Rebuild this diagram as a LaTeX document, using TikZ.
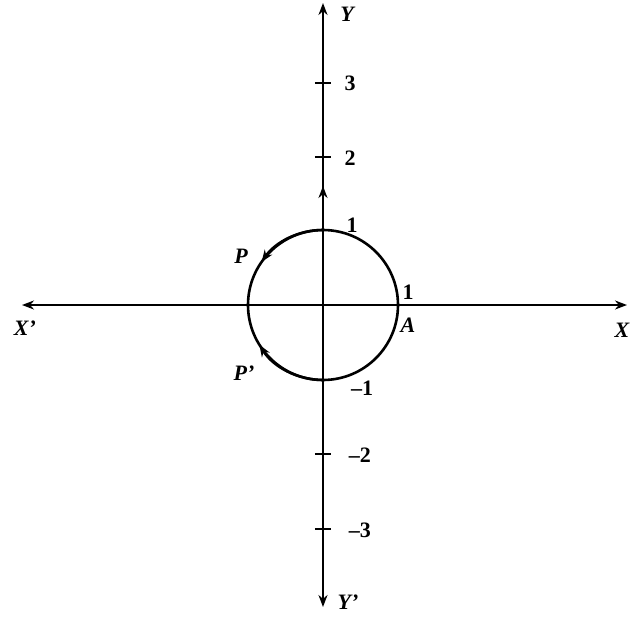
\documentclass[tikz,border=0pt]{standalone}
\usepackage{fontspec}
\setmainfont{Liberation Serif}
\usetikzlibrary{arrows.meta}
\begin{document}
\begin{tikzpicture}[x=1pt,y=1pt,
  axisline/.style={line width=2.6pt,black},
  tip/.style={-{Stealth[length=12pt,width=9pt]}},
  lbl/.style={font=\fontsize{22}{22}\selectfont\bfseries, inner sep=0pt},
  ilbl/.style={font=\fontsize{22}{22}\selectfont\bfseries\itshape, inner sep=0pt},
  tickmark/.style={line width=2.4pt}]
\useasboundingbox (-323,-314) rectangle (314,305);
\coordinate (O) at (0,0);
\coordinate (xl) at (-301,0);
\coordinate (xr) at (304,0);
\coordinate (yt) at (0,302);
\coordinate (yb) at (0,-302);
\coordinate (ym) at (0,119);
\draw[axisline,{Stealth[length=12pt,width=9pt]}-{Stealth[length=12pt,width=9pt]}] (xl) -- (xr);
\draw[axisline,{Stealth[length=12pt,width=9pt]}-{Stealth[length=12pt,width=9pt]}] (yb) -- (yt);
\draw[axisline,tip] (O) -- (ym);
% ticks
\foreach \v/\n in {148/t2,222/t3,-149/tm2,-224/tm3}{
  \coordinate (\n) at (0,\v);
  \draw[tickmark] ([xshift=-8pt]\n) -- ([xshift=8pt]\n);
}
% circle
\draw[axisline] (O) circle[radius=75];
\draw[axisline,tip] (0,75) arc[start angle=90,end angle=145,radius=75];
\draw[axisline,tip] (0,-75) arc[start angle=270,end angle=212,radius=75];
% labels
\node[ilbl] (lY) at (24,291) {Y};
\node[lbl] (l3) at (27,222) {3};
\node[lbl] (l2) at (27,147) {2};
\node[lbl] (l1t) at (29,80) {1};
\node[ilbl] (lP) at (-82,49) {P};
\node[lbl] (l1r) at (85,13) {1};
\node[ilbl] (lA) at (85,-20) {A};
\node[ilbl] (lXp) at (-298,-23) {X\textquoteright};
\node[ilbl] (lX) at (299,-25) {X};
\node[ilbl] (lPp) at (-79,-68) {P\textquoteright};
\node[lbl] (lm1) at (39,-83) {\textendash1};
\node[lbl] (lm2) at (37,-150) {\textendash2};
\node[lbl] (lm3) at (37,-225) {\textendash3};
\node[ilbl] (lYp) at (25,-297) {Y\textquoteright};
\end{tikzpicture}
\end{document}
